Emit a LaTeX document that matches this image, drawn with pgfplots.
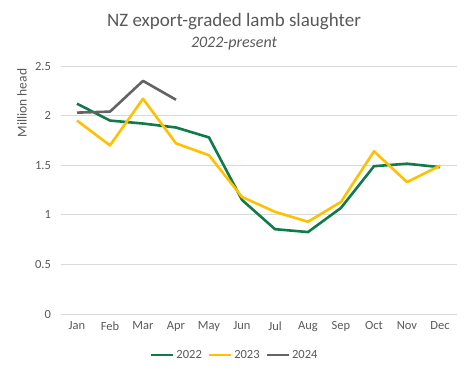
\documentclass[border=0pt]{standalone}
\usepackage{pgfplots}
\pgfplotsset{compat=1.18}
\usepackage{fontspec}
\setmainfont{Carlito}
\definecolor{cgreen}{RGB}{16,122,72}
\definecolor{cyellow}{RGB}{255,192,0}
\definecolor{cgray}{RGB}{100,100,100}
\definecolor{ctext}{RGB}{89,89,89}
\definecolor{cgrid}{RGB}{217,217,217}
\begin{document}
\begin{tikzpicture}
\path[use as bounding box] (0bp,0bp) rectangle (468bp,372bp);
\begin{axis}[
  at={(60.5bp,58bp)}, anchor=south west,
  scale only axis, width=396bp, height=248bp,
  xmin=-0.5, xmax=11.5, ymin=0, ymax=2.5,
  xtick={0,...,11},
  xticklabels={Jan,Feb,Mar,Apr,May,Jun,Jul,Aug,Sep,Oct,Nov,Dec},
  ytick={0,0.5,1,1.5,2,2.5},
  yticklabels={0,0.5,1,1.5,2,2.5},
  axis line style={draw=none},
  major tick length=0pt,
  ymajorgrids, grid style={cgrid, line width=0.9bp},
  tick label style={font=\fontsize{12.5bp}{14bp}\selectfont, text=ctext},
  xticklabel style={yshift=-4bp},
  yticklabel style={xshift=-6bp},
  /pgf/number format/assume math mode=true,
  legend style={draw=none, at={(0.44,-0.13)}, anchor=north, font=\fontsize{12.5bp}{14bp}\selectfont, text=ctext, legend columns=3, /tikz/every even column/.append style={column sep=4bp}},
  legend image code/.code={\draw[#1, line width=2.5bp] (0bp,0bp) -- (22bp,0bp);},
  every axis plot/.append style={line width=2.6bp, line join=round},
  clip=false,
]
\addplot[cgreen] coordinates {(0,2.12)(1,1.95)(2,1.92)(3,1.88)(4,1.78)(5,1.15)(6,0.855)(7,0.826)(8,1.07)(9,1.49)(10,1.515)(11,1.48)};
\addlegendentry{2022}
\addplot[cyellow] coordinates {(0,1.95)(1,1.70)(2,2.17)(3,1.72)(4,1.60)(5,1.18)(6,1.03)(7,0.93)(8,1.13)(9,1.64)(10,1.33)(11,1.495)};
\addlegendentry{2023}
\addplot[cgray] coordinates {(0,2.03)(1,2.04)(2,2.35)(3,2.16)};
\addlegendentry{2024}
\end{axis}
\node[text=ctext, font=\fontsize{19bp}{22bp}\selectfont] at (234bp,350bp) {NZ export-graded lamb slaughter};
\node[text=ctext, font=\fontsize{16bp}{18bp}\selectfont\itshape] at (234bp,328bp) {2022-present};
\node[text=ctext, rotate=90, font=\fontsize{13.5bp}{15bp}\selectfont] at (22bp,269bp) {Million head};
\end{tikzpicture}
\end{document}
